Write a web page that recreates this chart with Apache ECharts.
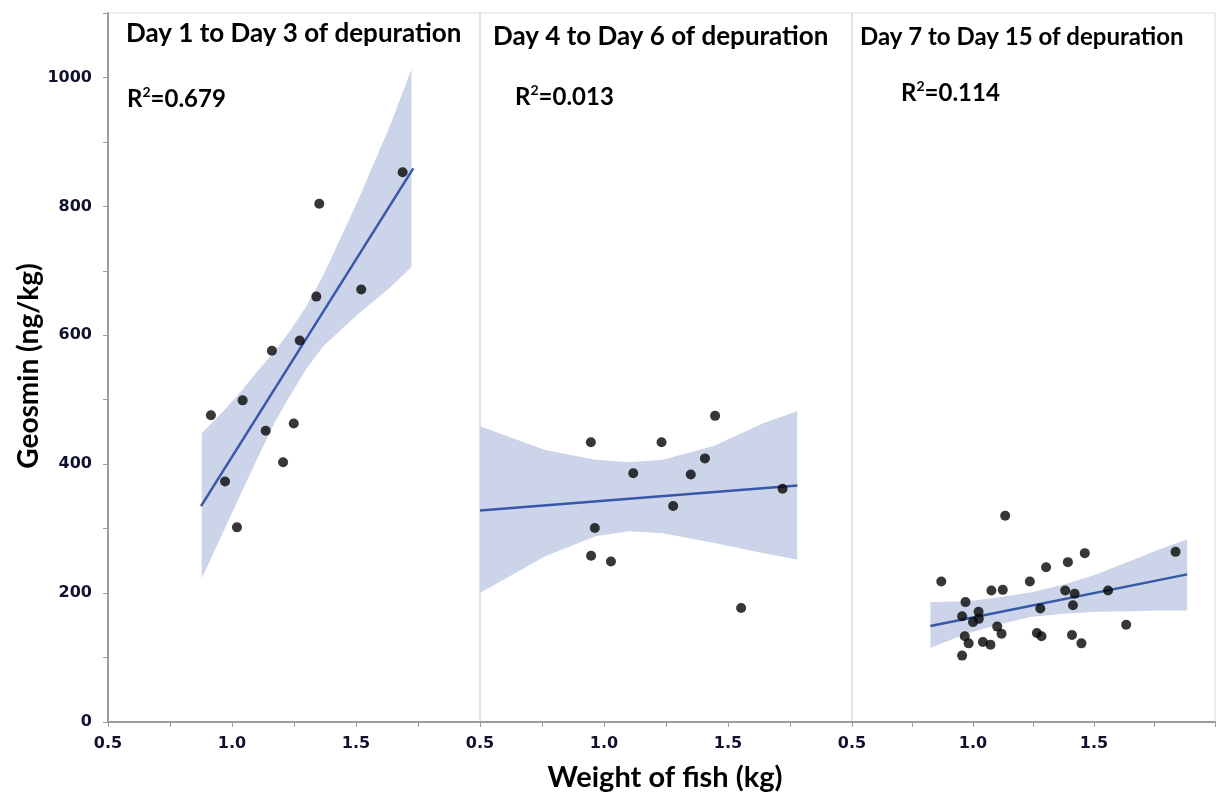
<!DOCTYPE html>
<html>
<head>
<meta charset="utf-8">
<title>Geosmin vs weight of fish</title>
<script src="https://cdn.jsdelivr.net/npm/echarts@6/dist/echarts.min.js"></script>
<style>
html, body { margin: 0; padding: 0; background: #fff; }
#main { width: 1218px; height: 797px; }
</style>
</head>
<body>
<div id="main"></div>
<script>
// Day 1 to Day 3
var w1 = [0.915, 0.972, 1.020, 1.043, 1.136, 1.161, 1.206, 1.249, 1.273, 1.340, 1.352, 1.521, 1.688];
var g1 = [476, 373, 302, 499, 452, 576, 403, 463, 592, 660, 804, 671, 853];
var fitX1 = [0.875, 1.731];
var fitY1 = [335, 859];
var bandX1 = [0.878, 0.965, 1.032, 1.100, 1.170, 1.234, 1.300, 1.368, 1.503, 1.637, 1.724];
var bandLo1 = [223, 295, 351, 407, 463, 506, 548, 583, 631, 674, 706];
var bandHi1 = [448, 482, 511, 543, 574, 607, 645, 693, 805, 925, 1013];

// Day 4 to Day 6
var w2 = [0.947, 0.948, 0.963, 1.028, 1.118, 1.232, 1.279, 1.350, 1.407, 1.448, 1.553, 1.720];
var g2 = [434, 258, 301, 249, 386, 434, 335, 384, 409, 475, 177, 362];
var fitX2 = [0.5, 1.78];
var fitY2 = [328, 367];
var bandX2 = [0.5, 0.763, 0.966, 1.102, 1.237, 1.440, 1.644, 1.779];
var bandLo2 = [200, 257, 288, 296, 293, 278, 262, 252];
var bandHi2 = [459, 422, 407, 403, 407, 428, 464, 482];

// Day 7 to Day 15
var w3 = [0.869, 0.955, 0.955, 0.966, 0.969, 0.982, 1.000, 1.023, 1.024, 1.041, 1.072, 1.076, 1.100, 1.118, 1.123, 1.133,
          1.235, 1.264, 1.278, 1.283, 1.302, 1.381, 1.392, 1.409, 1.413, 1.420, 1.448, 1.462, 1.558, 1.633, 1.837];
var g3 = [218, 164, 103, 133, 186, 122, 155, 171, 160, 124, 120, 204, 148, 137, 205, 320,
          218, 138, 176, 133, 240, 204, 248, 135, 181, 199, 122, 262, 204, 151, 264];
var fitX3 = [0.824, 1.885];
var fitY3 = [149, 229];
var bandX3 = [0.824, 0.966, 1.102, 1.237, 1.373, 1.508, 1.644, 1.779, 1.885];
var bandLo3 = [115, 136, 151, 163, 168, 171, 172, 173, 173];
var bandHi3 = [186, 187, 193, 201, 213, 229, 249, 269, 283];

var panelTitles = ['Day 1 to Day 3 of depuration', 'Day 4 to Day 6 of depuration', 'Day 7 to Day 15 of depuration'];
var rSquared = ['0.679', '0.013', '0.114'];
var xTicks = [0.5, 1.0, 1.5];
var yTicks = [0, 200, 400, 600, 800, 1000];

var panels = [
	{ w: w1, g: g1, fx: fitX1, fy: fitY1, bx: bandX1, lo: bandLo1, hi: bandHi1 },
	{ w: w2, g: g2, fx: fitX2, fy: fitY2, bx: bandX2, lo: bandLo2, hi: bandHi2 },
	{ w: w3, g: g3, fx: fitX3, fy: fitY3, bx: bandX3, lo: bandLo3, hi: bandHi3 }
];

var gridLeft = [108, 480, 852];
var titlePos = [[126, 21], [493, 24], [860, 25]];
var titleSize = [26, 26, 24];
var r2Pos = [[127, 85], [515, 83], [901, 79]];

var tickFont = '"DejaVu Sans", Verdana, sans-serif';
var boldFont = 'Lato, sans-serif';

function zip(a, b) {
	return a.map(function(v, i) { return [v, b[i]]; });
}

var myChart = echarts.init(document.getElementById('main'));

var grids = [], xAxes = [], yAxes = [], series = [], titles = [];

// tick labels go through rich text so their size is set explicitly
var tickRich = {
	t: { fontFamily: tickFont, fontWeight: 'bold', fontSize: 16, color: '#111130' }
};

panels.forEach(function(p, i) {
	grids.push({
		left: gridLeft[i], top: 13, width: 372, height: 709,
		show: true, borderColor: '#dadada', borderWidth: 1
	});
	xAxes.push({
		gridIndex: i, type: 'value', min: 0.5, max: 2.0, interval: 0.25,
		axisLine: { show: true, onZero: false, lineStyle: { color: '#9c9c9c', width: 2 } },
		axisTick: { show: true, length: 5, lineStyle: { color: '#9c9c9c', width: 1 } },
		axisLabel: {
			margin: 14, rich: tickRich,
			formatter: function(v) { return xTicks.indexOf(v) >= 0 ? '{t|' + v.toFixed(1) + '}' : ''; }
		},
		splitLine: { show: false }
	});
	yAxes.push({
		gridIndex: i, type: 'value', min: 0, max: 1100, interval: 100,
		axisLine: { show: i === 0, lineStyle: { color: '#9c9c9c', width: 2 } },
		axisTick: { show: i === 0, length: 5, lineStyle: { color: '#9c9c9c', width: 1 } },
		axisLabel: {
			show: i === 0, margin: 16, rich: tickRich,
			formatter: function(v) { return yTicks.indexOf(v) >= 0 ? '{t|' + v + '}' : ''; }
		},
		splitLine: { show: false }
	});

	// confidence band
	series.push({
		type: 'custom', xAxisIndex: i, yAxisIndex: i, silent: true, z: 1, clip: true,
		data: p.bx.map(function(x, k) { return [x, p.lo[k], p.hi[k]]; }),
		encode: { x: 0, y: [1, 2] },
		renderItem: function(params, api) {
			if (params.dataIndex !== 0) return;
			var pts = [];
			for (var k = 0; k < p.bx.length; k++) pts.push(api.coord([p.bx[k], p.hi[k]]));
			for (var k = p.bx.length - 1; k >= 0; k--) pts.push(api.coord([p.bx[k], p.lo[k]]));
			return { type: 'polygon', shape: { points: pts }, style: { fill: '#cbd4e8' } };
		}
	});
	// fit line
	series.push({
		type: 'line', xAxisIndex: i, yAxisIndex: i, z: 2, silent: true,
		data: zip(p.fx, p.fy), symbol: 'none',
		lineStyle: { color: '#3758a8', width: 2.5 }
	});
	// fish
	series.push({
		type: 'scatter', xAxisIndex: i, yAxisIndex: i, z: 3,
		data: zip(p.w, p.g), symbolSize: 10,
		itemStyle: { color: '#050505' }
	});

	titles.push({
		text: panelTitles[i], left: titlePos[i][0], top: titlePos[i][1], padding: 0,
		textStyle: { fontFamily: boldFont, fontWeight: 'bold', fontSize: titleSize[i], color: '#000' }
	});
	titles.push({
		text: '{b|R}{s|2}{b|=' + rSquared[i] + '}', left: r2Pos[i][0], top: r2Pos[i][1], padding: 0,
		textStyle: {
			rich: {
				b: { fontFamily: boldFont, fontWeight: 'bold', fontSize: 24, color: '#000', lineHeight: 28 },
				s: { fontFamily: boldFont, fontWeight: 'bold', fontSize: 14, color: '#000', lineHeight: 12, verticalAlign: 'top' }
			}
		}
	});
});

var option = {
	animation: false,
	backgroundColor: '#fff',
	title: titles,
	grid: grids,
	xAxis: xAxes,
	yAxis: yAxes,
	series: series,
	graphic: [
		{
			type: 'text', x: 665, y: 778, z: 10,
			style: { text: 'Weight of fish (kg)', fill: '#000', font: 'bold 29px ' + boldFont, align: 'center', verticalAlign: 'middle' }
		},
		{
			type: 'text', x: 29, y: 366, rotation: Math.PI / 2, z: 10,
			style: { text: 'Geosmin (ng/kg)', fill: '#000', font: 'bold 28px ' + boldFont, align: 'center', verticalAlign: 'middle' }
		}
	]
};

myChart.setOption(option);
</script>
</body>
</html>
